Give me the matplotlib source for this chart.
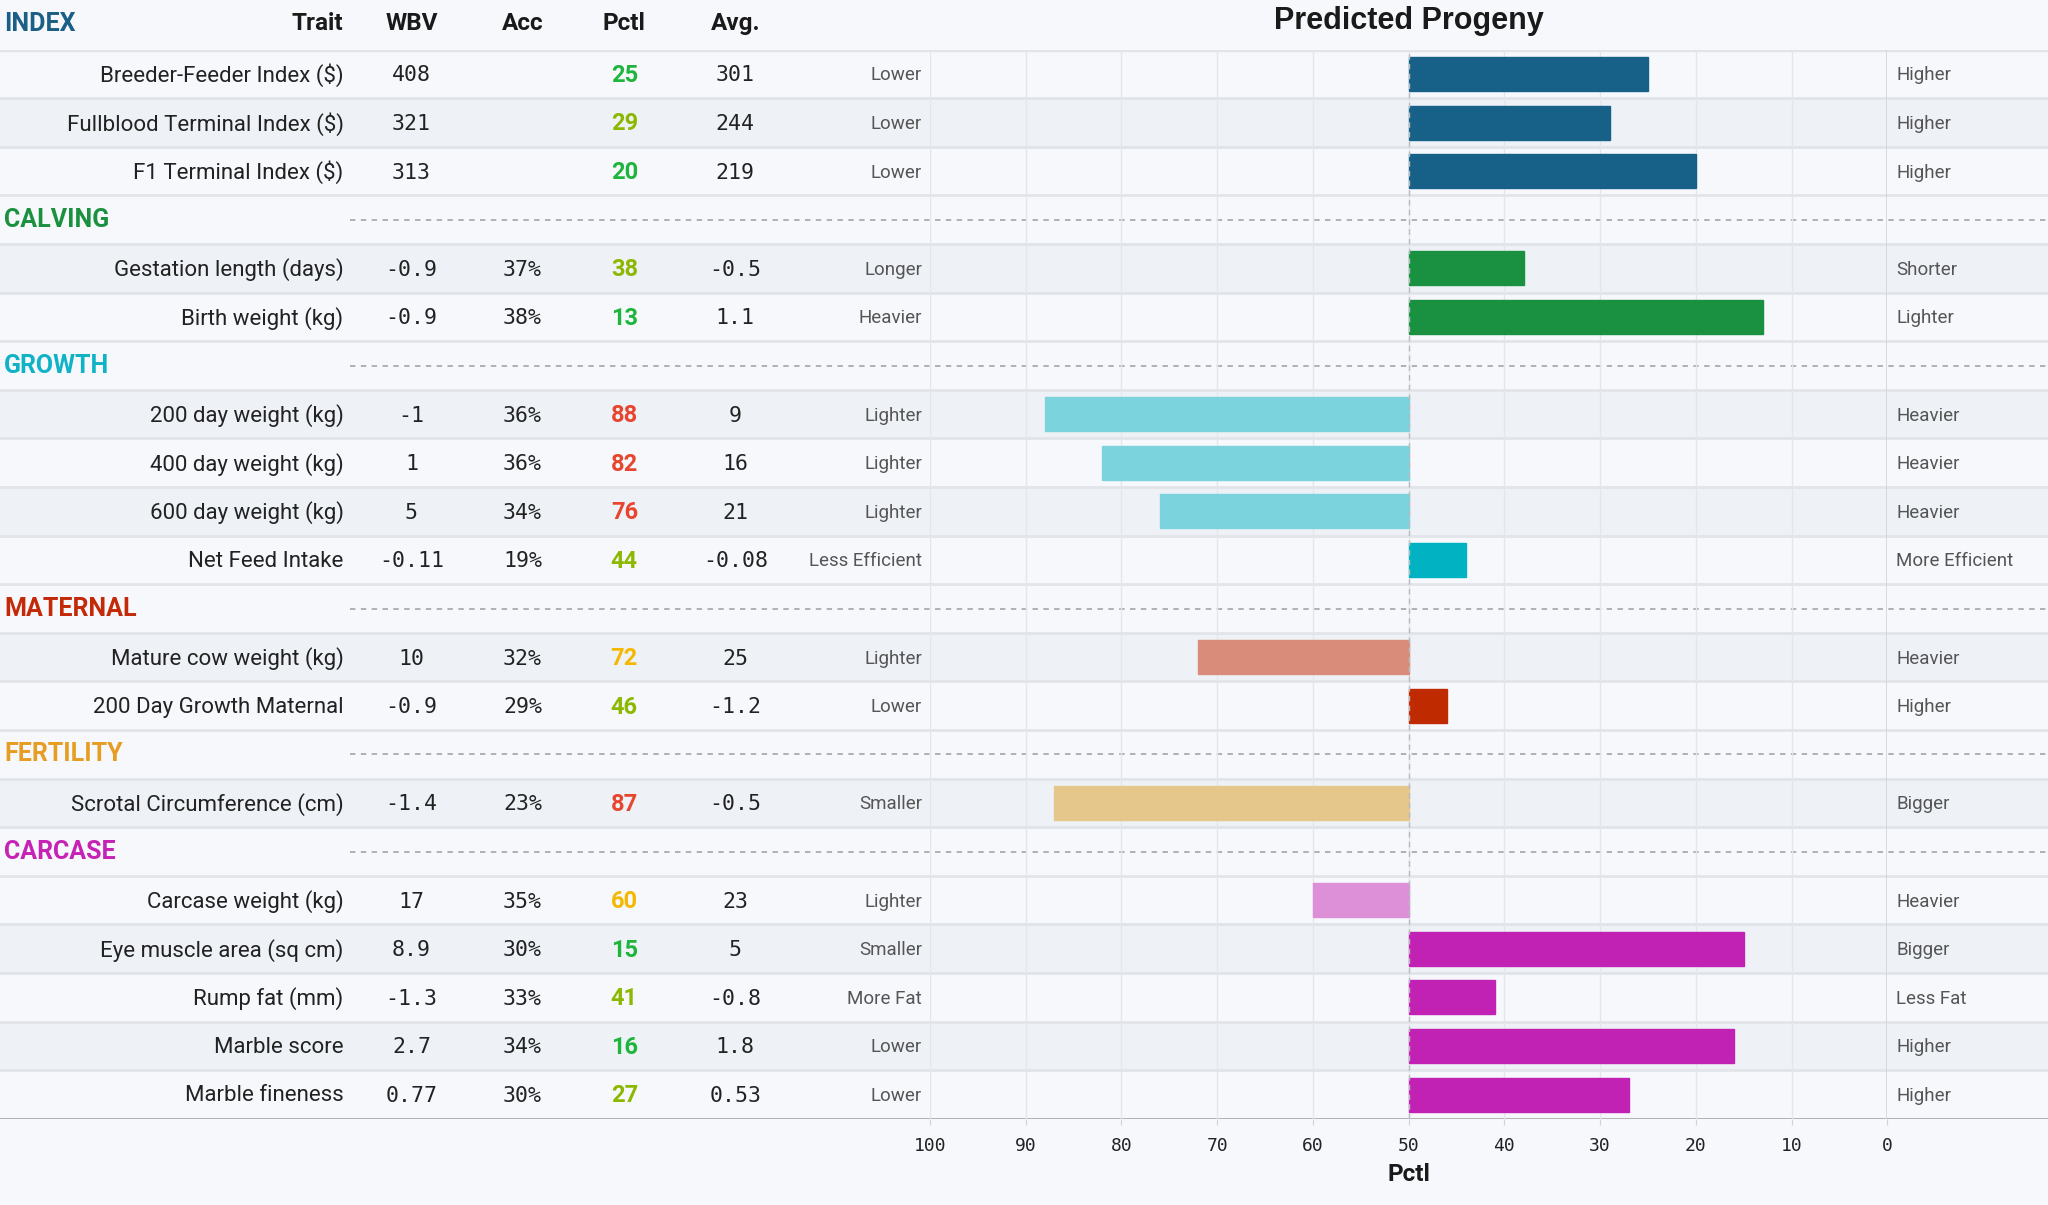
import matplotlib
matplotlib.use('Agg')
import matplotlib.pyplot as plt

plt.rcParams['font.family'] = ['Roboto', 'DejaVu Sans']

# ---------------- data ----------------
traits = ['Breeder-Feeder Index ($)', 'Fullblood Terminal Index ($)', 'F1 Terminal Index ($)',
          'Gestation length (days)', 'Birth weight (kg)',
          '200 day weight (kg)', '400 day weight (kg)', '600 day weight (kg)', 'Net Feed Intake',
          'Mature cow weight (kg)', '200 Day Growth Maternal',
          'Scrotal Circumference (cm)',
          'Carcase weight (kg)', 'Eye muscle area (sq cm)', 'Rump fat (mm)', 'Marble score',
          'Marble fineness']
groups = ['INDEX', 'INDEX', 'INDEX',
          'CALVING', 'CALVING',
          'GROWTH', 'GROWTH', 'GROWTH', 'GROWTH',
          'MATERNAL', 'MATERNAL',
          'FERTILITY',
          'CARCASE', 'CARCASE', 'CARCASE', 'CARCASE', 'CARCASE']
wbv = ['408', '321', '313', '-0.9', '-0.9', '-1', '1', '5', '-0.11', '10', '-0.9', '-1.4',
       '17', '8.9', '-1.3', '2.7', '0.77']
acc = [None, None, None, 37, 38, 36, 36, 34, 19, 32, 29, 23, 35, 30, 33, 34, 30]
pctl = [25, 29, 20, 38, 13, 88, 82, 76, 44, 72, 46, 87, 60, 15, 41, 16, 27]
avg = ['301', '244', '219', '-0.5', '1.1', '9', '16', '21', '-0.08', '25', '-1.2', '-0.5',
       '23', '5', '-0.8', '1.8', '0.53']
low_labels = ['Lower', 'Lower', 'Lower', 'Longer', 'Heavier', 'Lighter', 'Lighter', 'Lighter',
              'Less Efficient', 'Lighter', 'Lower', 'Smaller', 'Lighter', 'Smaller', 'More Fat',
              'Lower', 'Lower']
high_labels = ['Higher', 'Higher', 'Higher', 'Shorter', 'Lighter', 'Heavier', 'Heavier', 'Heavier',
               'More Efficient', 'Heavier', 'Higher', 'Bigger', 'Heavier', 'Bigger', 'Less Fat',
               'Higher', 'Higher']
columns = ['Trait', 'WBV', 'Acc', 'Pctl', 'Avg.']

# ---------------- styles ----------------
BG = '#f6f8fc'
STRIPE = '#eef2f7'
SEP = '#e1e4e9'
group_color = {'INDEX': '#1b5f86', 'CALVING': '#1b9140', 'GROWTH': '#10b3c6',
               'MATERNAL': '#c32a08', 'FERTILITY': '#e69d22', 'CARCASE': '#c623b6'}
bar_dark = {'INDEX': '#176087', 'CALVING': '#1a9140', 'GROWTH': '#00b2c2',
            'MATERNAL': '#c02a00', 'FERTILITY': '#e69d22', 'CARCASE': '#c222b4'}
bar_light = {'INDEX': '#8cb0c4', 'CALVING': '#8cc8a0', 'GROWTH': '#7ad3dd',
             'MATERNAL': '#d98c7a', 'FERTILITY': '#e5c68b', 'CARCASE': '#dd8fd8'}


def pctl_color(p):
    if p <= 25:
        return '#1db53c'
    if p <= 50:
        return '#8db800'
    if p <= 75:
        return '#f5b800'
    return '#e8452f'


# ---------------- layout ----------------
W, H = 1568.0, 923.0
fig = plt.figure(figsize=(20.48, 12.05), dpi=100)
fig.patch.set_facecolor(BG)

rows = []
prev = None
for i, g in enumerate(groups):
    if g != prev:
        if prev is not None:
            rows.append(('section', g))
        prev = g
    rows.append(('trait', i))
n = len(rows)

bottom = 1 - 857 / H
top = 1 - 38 / H
tab = fig.add_axes([0, bottom, 1, top - bottom])
tab.set_xlim(0, 1)
tab.set_ylim(n - 0.5, -0.5)
tab.axis('off')

axl = 712 / W
axr = 1445 / W
ax = fig.add_axes([axl, bottom, axr - axl, top - bottom])
ax.set_xlim(100, 0)
ax.set_ylim(n - 0.5, -0.5)
ax.patch.set_alpha(0)
for s in ax.spines.values():
    s.set_visible(False)

x_trait = 263 / W
x_wbv = 315 / W
x_acc = 400 / W
x_pctl = 478 / W
x_avg = 563 / W
x_low = 706 / W
x_high = 1452 / W
x_sec = 3 / W
x_dash = 268 / W

mono = 'DejaVu Sans Mono'
dy = 0.03

# header row
tab.text(x_sec, -1.03, 'INDEX', color=group_color['INDEX'], fontsize=18, fontweight='bold',
         ha='left', va='center', clip_on=False)
for name, x in zip(columns, [x_trait, x_wbv, x_acc, x_pctl, x_avg]):
    tab.text(x, -1.03, name, fontsize=17.5, fontweight='bold', color='#1a1a1a',
             ha='right' if name == 'Trait' else 'center', va='center', clip_on=False)
ax.text(50, -1.08, 'Predicted Progeny', fontsize=22, fontweight='bold', color='#1a1a1a',
        family=['Liberation Sans', 'DejaVu Sans'], ha='center', va='center', clip_on=False)

# rows
for r, (kind, val) in enumerate(rows):
    if kind == 'section':
        tab.text(x_sec, r, val, color=group_color[val], fontsize=18, fontweight='bold',
                 ha='left', va='center')
        tab.plot([x_dash, 1], [r, r], color='#a8abb0', lw=1.3, ls=(0, (3, 3)), zorder=1)
        continue
    i = val
    y = r + dy
    if i % 2 == 1:
        tab.axhspan(r - 0.5, r + 0.5, color=STRIPE, zorder=0, lw=0)
    tab.text(x_trait, y, traits[i], fontsize=16, color='#222222', ha='right', va='center')
    tab.text(x_wbv, y, wbv[i], fontsize=15.5, family=mono, color='#222222', ha='center', va='center')
    if acc[i] is not None:
        tab.text(x_acc, y, f'{acc[i]}%', fontsize=15.5, family=mono, color='#222222',
                 ha='center', va='center')
    tab.text(x_pctl, y, str(pctl[i]), fontsize=17, fontweight='bold', color=pctl_color(pctl[i]),
             ha='center', va='center')
    tab.text(x_avg, y, avg[i], fontsize=15.5, family=mono, color='#222222', ha='center', va='center')
    tab.text(x_low, y, low_labels[i], fontsize=13.5, color='#555555', ha='right', va='center')
    tab.text(x_high, y, high_labels[i], fontsize=13.5, color='#555555', ha='left', va='center')

    g = groups[i]
    c = bar_light[g] if pctl[i] > 50 else bar_dark[g]
    ax.barh(r, pctl[i] - 50, left=50, height=0.7, color=c, edgecolor=c, lw=1, zorder=3)

# separators
tab.axhline(-0.5, color=SEP, lw=2.5, zorder=2)
for r in range(n - 1):
    tab.axhline(r + 0.5, color=SEP, lw=2, zorder=2)
tab.axhline(n - 0.5, color='#a9abaf', lw=2, zorder=2)

# grid in bar area
ticks = list(range(100, -1, -10))
ax.set_xticks(ticks)
ax.set_xticklabels([str(t) for t in ticks], family=mono, fontsize=13, color='#222222')
ax.set_yticks([])
ax.grid(axis='x', color='#e4e6ea', lw=1, zorder=0)
ax.axvline(100, color='#d0d3d8', lw=1.3, zorder=1)
ax.axvline(0, color='#d0d3d8', lw=1.3, zorder=1)
ax.axvline(50, color='#b8bbc0', lw=1, ls=(0, (4, 3)), zorder=4)
ax.tick_params(axis='x', length=4, color='#d0d3d8', pad=9)
ax.set_xlabel('Pctl', fontsize=17.5, fontweight='bold', color='#1a1a1a', labelpad=6)

fig.savefig('out.png', dpi=100, facecolor=BG)
